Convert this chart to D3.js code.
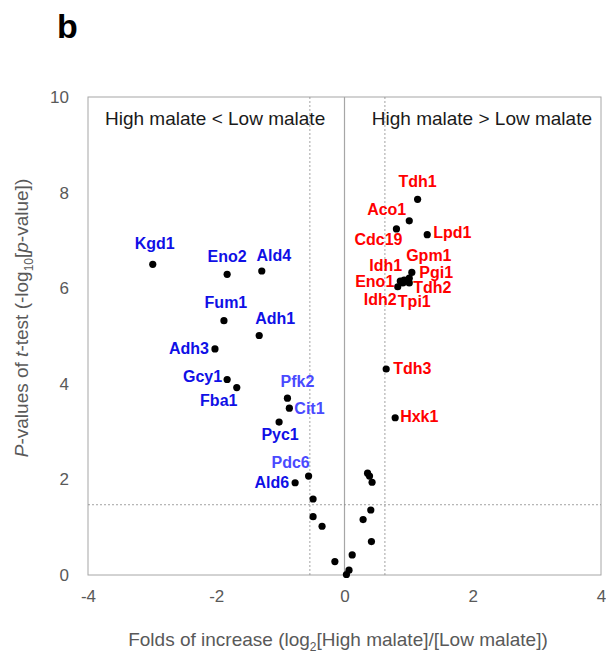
<!DOCTYPE html>
<html>
<head>
<meta charset="utf-8">
<script src="https://cdn.jsdelivr.net/npm/d3@7"></script>
<style>
  body { margin: 0; background: #fff; }
  svg { font-family: "Liberation Sans", Arial, sans-serif; }
</style>
</head>
<body>
<svg id="chart"></svg>
<script>
var width = 606, height = 658;

// data: log2 fold change and -log10 p
var blueGenes = ["Kgd1", "Eno2", "Ald4", "Fum1", "Adh1", "Adh3", "Gcy1", "Fba1", "Pfk2", "Cit1", "Pyc1", "Pdc6", "Ald6"];
var blueFold  = [-2.99, -1.83, -1.29, -1.88, -1.33, -2.02, -1.83, -1.68, -0.89, -0.86, -1.02, -0.56, -0.77];
var blueP     = [6.50, 6.29, 6.36, 5.32, 5.01, 4.73, 4.09, 3.92, 3.70, 3.49, 3.20, 2.07, 1.93];
var lightBlue = ["Pfk2", "Cit1", "Pdc6"];

var redGenes = ["Tdh1", "Aco1", "Cdc19", "Lpd1", "Gpm1", "Idh1", "Pgi1", "Eno1", "Tdh2", "Idh2", "Tpi1", "Tdh3", "Hxk1"];
var redFold  = [1.14, 1.01, 0.81, 1.29, 1.05, 0.93, 1.01, 0.87, 1.01, 0.83, 0.91, 0.65, 0.79];
var redP     = [7.86, 7.41, 7.24, 7.12, 6.33, 6.17, 6.21, 6.15, 6.11, 6.03, 6.11, 4.31, 3.29];

var otherFold = [0.36, 0.39, 0.43, -0.49, 0.41, -0.49, 0.29, -0.35, 0.42, 0.12, -0.15, 0.07, 0.03];
var otherP    = [2.13, 2.07, 1.94, 1.59, 1.36, 1.22, 1.16, 1.02, 0.70, 0.42, 0.28, 0.10, 0.01];

var xTicks = [-4, -2, 0, 2, 4];
var yTicks = [0, 2, 4, 6, 8, 10];
var foldCutLow = -0.54, foldCutHigh = 0.63, pCut = 1.47;

// label placement (px offsets from the dot)
var labelPos = {
    Kgd1: ["middle", 2, -15], Eno2: ["middle", 0, -12], Ald4: ["middle", 12, -10],
    Fum1: ["middle", 2, -13], Adh1: ["middle", 16, -12], Adh3: ["end", -6, 5],
    Gcy1: ["end", -5, 3], Fba1: ["middle", -18, 18], Pfk2: ["middle", 10, -11],
    Cit1: ["start", 5, 6], Pyc1: ["middle", 1, 18], Pdc6: ["middle", -18, -8],
    Ald6: ["end", -6, 5],
    Tdh1: ["middle", 0, -12], Aco1: ["end", -3, -6], Cdc19: ["middle", -18, 16],
    Lpd1: ["start", 6, 3], Gpm1: ["middle", 17, -11], Idh1: ["end", -2, -9],
    Pgi1: ["start", 10, 0], Eno1: ["end", -6, 6], Tdh2: ["start", 4, 10],
    Idh2: ["end", -1, 18], Tpi1: ["start", -5, 24], Tdh3: ["start", 7, 5],
    Hxk1: ["start", 5, 4]
};

var x = d3.scaleLinear().domain([-4, 4]).range([88, 601]);
var y = d3.scaleLinear().domain([0, 10]).range([575, 97]);

var svg = d3.select("#chart").attr("width", width).attr("height", height);

// panel letter
svg.append("text").attr("x", 57).attr("y", 38)
    .style("font-size", "34px").style("font-weight", "bold").text("b");

// frame
svg.append("rect")
    .attr("x", x(-4)).attr("y", y(10))
    .attr("width", x(4) - x(-4)).attr("height", y(0) - y(10))
    .style("fill", "none").style("stroke", "#a6a6a6").style("stroke-width", 1);

// zero line
svg.append("line")
    .attr("x1", x(0)).attr("x2", x(0)).attr("y1", y(0)).attr("y2", y(10))
    .style("stroke", "#a6a6a6").style("stroke-width", 1.2);

// cut-off lines
var gCut = svg.append("g").style("stroke", "#8c8c8c").style("stroke-width", 0.8).style("stroke-dasharray", "2,2");
[foldCutLow, foldCutHigh].forEach(function(v) {
    gCut.append("line").attr("x1", x(v)).attr("x2", x(v)).attr("y1", y(0)).attr("y2", y(10));
});
gCut.append("line").attr("x1", x(-4)).attr("x2", x(4)).attr("y1", y(pCut)).attr("y2", y(pCut));

// axes
var xAxis = svg.append("g").attr("transform", "translate(0," + (y(0) + 12) + ")")
    .call(d3.axisBottom(x).tickValues(xTicks).tickSize(0).tickFormat(d3.format("d")));
var yAxis = svg.append("g").attr("transform", "translate(" + (x(-4) - 17) + ",0)")
    .call(d3.axisLeft(y).tickValues(yTicks).tickSize(0));
[xAxis, yAxis].forEach(function(g) {
    g.select(".domain").remove();
    g.selectAll("text").style("font-size", "17px").style("fill", "#595959")
        .style("font-family", "'Liberation Sans', Arial, sans-serif");
});
xAxis.selectAll("text").text(function(d) { return d < 0 ? "-" + Math.abs(d) : d; });
yAxis.selectAll("text").attr("x", -2);

// headers
svg.append("text").attr("x", 105).attr("y", 125).style("font-size", "19px").style("fill", "#1a1a1a")
    .text("High malate < Low malate");
svg.append("text").attr("x", 592).attr("y", 125).attr("text-anchor", "end").style("font-size", "19px").style("fill", "#1a1a1a")
    .text("High malate > Low malate");

// axis titles
var xt = svg.append("text").attr("x", 338).attr("y", 646).attr("text-anchor", "middle")
    .style("font-size", "19px").style("fill", "#595959");
xt.append("tspan").text("Folds of increase (log");
xt.append("tspan").attr("dy", 5).style("font-size", "12px").text("2");
xt.append("tspan").attr("dy", -5).text("[High malate]/[Low malate])");

var yt = svg.append("text").attr("transform", "translate(28,318) rotate(-90)").attr("text-anchor", "middle")
    .style("font-size", "19px").style("fill", "#595959");
yt.append("tspan").style("font-style", "italic").text("P");
yt.append("tspan").text("-values of ");
yt.append("tspan").style("font-style", "italic").text("t");
yt.append("tspan").text("-test (-log");
yt.append("tspan").attr("dy", 5).style("font-size", "12px").text("10");
yt.append("tspan").attr("dy", -5).text("[");
yt.append("tspan").style("font-style", "italic").text("p");
yt.append("tspan").text("-value])");

// points
var points = [];
blueGenes.forEach(function(g, i) { points.push({gene: g, fold: blueFold[i], p: blueP[i], color: lightBlue.indexOf(g) >= 0 ? "#4a4aff" : "#1010e6"}); });
redGenes.forEach(function(g, i) { points.push({gene: g, fold: redFold[i], p: redP[i], color: "#ff0000"}); });
otherFold.forEach(function(f, i) { points.push({gene: null, fold: f, p: otherP[i]}); });

svg.append("g").selectAll("circle").data(points).join("circle")
    .attr("cx", function(d) { return x(d.fold); })
    .attr("cy", function(d) { return y(d.p); })
    .attr("r", 3.6)
    .style("fill", "#000");

svg.append("g").selectAll("text").data(points.filter(function(d) { return d.gene; })).join("text")
    .attr("x", function(d) { return x(d.fold) + labelPos[d.gene][1]; })
    .attr("y", function(d) { return y(d.p) + labelPos[d.gene][2]; })
    .attr("text-anchor", function(d) { return labelPos[d.gene][0]; })
    .style("font-size", "16px").style("font-weight", "bold")
    .style("fill", function(d) { return d.color; })
    .text(function(d) { return d.gene; });
</script>
</body>
</html>
